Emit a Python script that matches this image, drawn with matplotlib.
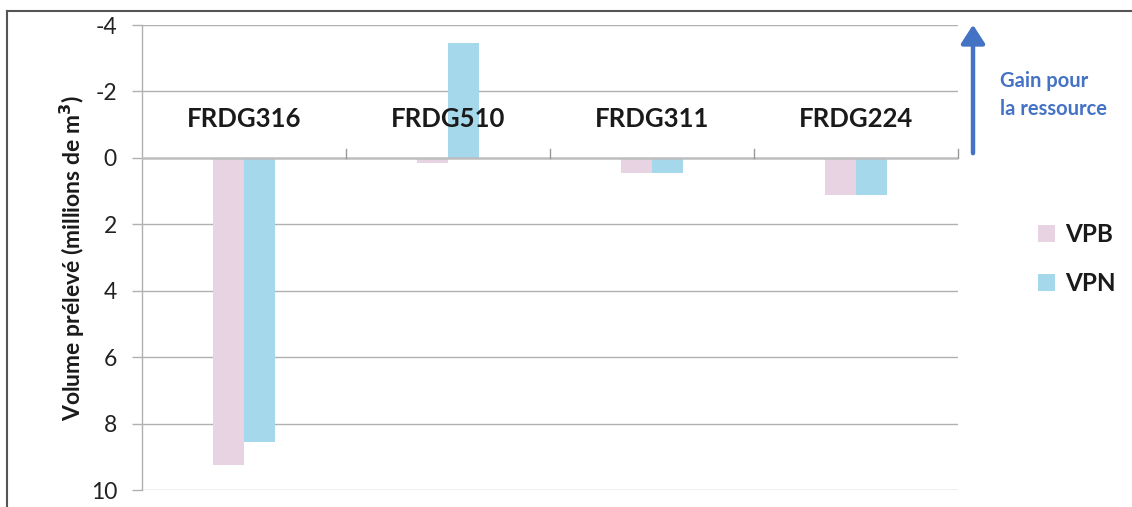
import matplotlib
matplotlib.use("Agg")
import matplotlib.pyplot as plt
from matplotlib.lines import Line2D
from matplotlib.patches import FancyArrowPatch
import numpy as np

plt.rcParams['font.family'] = ['Lato', 'DejaVu Sans']

categories = ["FRDG316", "FRDG510", "FRDG311", "FRDG224"]
vpb = [9.25, 0.14, 0.47, 1.12]
vpn = [8.56, -3.45, 0.47, 1.12]
series_names = ["VPB", "VPN"]
yticks = [-4, -2, 0, 2, 4, 6, 8, 10]

col_vpb = "#E8D3E3"
col_vpn = "#A5D8EA"
grid_col = "#B0B0B0"
blue = "#4472C4"

W, H = 1132, 507
fig = plt.figure(figsize=(W / 100, H / 100), dpi=100)
ax = fig.add_axes([142 / W, 1 - 490 / H, (958 - 142) / W, (490 - 25) / H])

x = np.arange(len(categories))
bw = 0.152
ax.bar(x - bw / 2, vpb, bw, color=col_vpb, label=series_names[0], zorder=3)
ax.bar(x + bw / 2, vpn, bw, color=col_vpn, label=series_names[1], zorder=3)

ax.set_xlim(-0.5, 3.5)
ax.set_ylim(10, -4)
ax.set_yticks(yticks)
ax.set_yticklabels([str(t) for t in yticks], fontsize=16.5, color="#222222")
ax.set_xticks([])
ax.tick_params(axis='y', length=7, color=grid_col, width=1, pad=11)

for t in yticks:
    if t != 0:
        ax.axhline(t, color=grid_col, lw=1, zorder=1)
ax.axhline(0, color="#BDBDBD", lw=1.8, zorder=4)

# category separators on the zero line
for b in np.arange(0.5, len(categories), 1.0):
    ax.plot([b, b], [0, -0.27], color="#999999", lw=1, zorder=4, clip_on=False)

for s in ['top', 'right', 'bottom']:
    ax.spines[s].set_visible(False)
ax.spines['left'].set_color(grid_col)
ax.spines['left'].set_linewidth(1)

for xi, name in zip(x, categories):
    ax.text(xi, -1.18, name, ha='center', va='center', fontsize=18.5,
            fontweight='bold', color="#1a1a1a", zorder=6)

fig.text(72 / W, 1 - 258 / H, "Volume prélevé (millions de m$^\\mathbf{3}$)",
         rotation=90, ha='center', va='center', fontsize=16.5,
         fontweight='bold', color="#1a1a1a")

# resource gain arrow
fig.add_artist(FancyArrowPatch(
    (973 / W, 1 - 156 / H), (973 / W, 1 - 22 / H),
    transform=fig.transFigure, arrowstyle='-|>,head_length=7,head_width=4.5',
    mutation_scale=1.6, color=blue, lw=3.2))
fig.text(1000 / W, 1 - 95 / H, "Gain pour\nla ressource", ha='left', va='center',
         fontsize=14.5, fontweight='bold', color=blue, linespacing=1.5)

leg = fig.legend(loc='center left', bbox_to_anchor=(1038 / W, 1 - 259 / H),
                 frameon=False, prop={'size': 17.5, 'weight': 'bold'},
                 handlelength=0.7, handleheight=0.7, handletextpad=0.4,
                 labelspacing=1.05, borderpad=0, borderaxespad=0)
for t in leg.get_texts():
    t.set_color("#1a1a1a")

# outer frame (top and left edges)
fig.add_artist(Line2D([7 / W, 7 / W], [0, 1 - 11 / H], transform=fig.transFigure,
                      color="#555555", lw=1.5))
fig.add_artist(Line2D([7 / W, 1], [1 - 11 / H, 1 - 11 / H], transform=fig.transFigure,
                      color="#555555", lw=1.5))

fig.savefig("out.png", dpi=100, facecolor="white")
